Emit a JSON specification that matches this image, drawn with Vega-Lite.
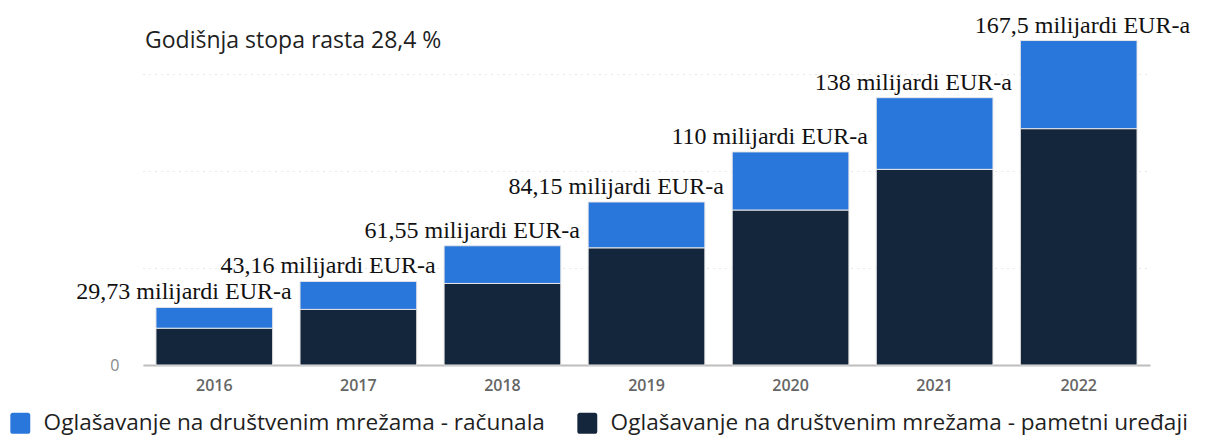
{
  "$schema": "https://vega.github.io/schema/vega-lite/v6.json",
  "width": 1007,
  "height": 339,
  "autosize": {"type": "none"},
  "padding": {"left": 143, "top": 26, "right": 59, "bottom": 72},
  "background": "#ffffff",
  "title": {
    "text": "Godišnja stopa rasta  28,4 %",
    "anchor": "start",
    "frame": "group",
    "orient": "top",
    "offset": 0,
    "dy": 57,
    "dx": 2,
    "baseline": "alphabetic",
    "font": "Open Sans",
    "fontSize": 23,
    "fontWeight": "normal",
    "color": "#1f1f1f"
  },
  "config": {
    "view": {"stroke": null},
    "axis": {"labelFont": "Open Sans"}
  },
  "datasets": {
    "bars": [
      {"year": "2016", "series": "Oglašavanje na društvenim mrežama - pametni uređaji", "value": 19.0},
      {"year": "2016", "series": "Oglašavanje na društvenim mrežama - računala", "value": 10.73},
      {"year": "2017", "series": "Oglašavanje na društvenim mrežama - pametni uređaji", "value": 28.7},
      {"year": "2017", "series": "Oglašavanje na društvenim mrežama - računala", "value": 14.46},
      {"year": "2018", "series": "Oglašavanje na društvenim mrežama - pametni uređaji", "value": 42.1},
      {"year": "2018", "series": "Oglašavanje na društvenim mrežama - računala", "value": 19.45},
      {"year": "2019", "series": "Oglašavanje na društvenim mrežama - pametni uređaji", "value": 60.5},
      {"year": "2019", "series": "Oglašavanje na društvenim mrežama - računala", "value": 23.65},
      {"year": "2020", "series": "Oglašavanje na društvenim mrežama - pametni uređaji", "value": 80.0},
      {"year": "2020", "series": "Oglašavanje na društvenim mrežama - računala", "value": 30.0},
      {"year": "2021", "series": "Oglašavanje na društvenim mrežama - pametni uređaji", "value": 101.0},
      {"year": "2021", "series": "Oglašavanje na društvenim mrežama - računala", "value": 37.0},
      {"year": "2022", "series": "Oglašavanje na društvenim mrežama - pametni uređaji", "value": 122.0},
      {"year": "2022", "series": "Oglašavanje na društvenim mrežama - računala", "value": 45.5}
    ],
    "totals": [
      {"year": "2016", "total": 29.73, "label": "29,73 milijardi EUR-a"},
      {"year": "2017", "total": 43.16, "label": "43,16 milijardi EUR-a"},
      {"year": "2018", "total": 61.55, "label": "61,55 milijardi EUR-a"},
      {"year": "2019", "total": 84.15, "label": "84,15 milijardi EUR-a"},
      {"year": "2020", "total": 110, "label": "110 milijardi EUR-a"},
      {"year": "2021", "total": 138, "label": "138 milijardi EUR-a"},
      {"year": "2022", "total": 167.5, "label": "167,5 milijardi EUR-a"}
    ]
  },
  "encoding": {
    "x": {
      "field": "year",
      "type": "ordinal",
      "scale": {"paddingInner": 0.19, "paddingOuter": 0.09},
      "axis": {
        "title": null,
        "labelAngle": 0,
        "ticks": false,
        "domainColor": "#bdbdbd",
        "domainWidth": 2,
        "labelColor": "#666666",
        "labelFontSize": 16,
        "labelFontWeight": 600,
        "labelPadding": 12
      }
    },
    "y": {
      "type": "quantitative",
      "scale": {"domain": [0, 175], "nice": false},
      "axis": {
        "title": null,
        "values": [0, 50, 100, 150],
        "labelExpr": "datum.value == 0 ? '0' : ''",
        "ticks": false,
        "domain": false,
        "gridColor": "#d0d0d0",
        "gridDash": [1, 5],
        "gridWidth": 1,
        "labelColor": "#888888",
        "labelFontSize": 16,
        "labelPadding": 24
      }
    }
  },
  "layer": [
    {
      "data": {"name": "bars"},
      "mark": {"type": "bar", "stroke": "#e6e6e6", "strokeWidth": 1},
      "encoding": {
        "y": {"field": "value", "type": "quantitative", "stack": "zero"},
        "order": {"field": "series", "sort": "ascending"},
        "color": {
          "field": "series",
          "type": "nominal",
          "scale": {
            "domain": [
              "Oglašavanje na društvenim mrežama - računala",
              "Oglašavanje na društvenim mrežama - pametni uređaji"
            ],
            "range": ["#2a77dc", "#13263b"]
          },
          "legend": {
            "title": null,
            "orient": "none",
            "legendX": -134,
            "legendY": 386,
            "direction": "horizontal",
            "columns": 2,
            "columnPadding": 31,
            "symbolType": "M -0.7,-1 L 0.7,-1 Q 0.95,-1 0.95,-0.75 L 0.95,0.75 Q 0.95,1 0.7,1 L -0.7,1 Q -0.95,1 -0.95,0.75 L -0.95,-0.75 Q -0.95,-1 -0.7,-1 Z",
            "symbolSize": 440,
            "symbolStrokeWidth": 0,
            "symbolOpacity": 1,
            "labelFont": "Open Sans",
            "labelFontSize": 22.6,
            "labelColor": "#1f1f1f",
            "labelLimit": 700,
            "labelOffset": 12
          }
        }
      }
    },
    {
      "data": {"name": "totals"},
      "transform": [{"filter": "datum.year != '2022'"}],
      "mark": {
        "type": "text",
        "align": "right",
        "baseline": "alphabetic",
        "dx": 19,
        "dy": -8,
        "font": "Liberation Serif",
        "fontSize": 24,
        "color": "#111111"
      },
      "encoding": {
        "x": {"field": "year", "type": "ordinal", "bandPosition": 1},
        "y": {"field": "total", "type": "quantitative"},
        "text": {"field": "label"}
      }
    },
    {
      "data": {"name": "totals"},
      "transform": [{"filter": "datum.year == '2022'"}],
      "mark": {
        "type": "text",
        "align": "right",
        "baseline": "alphabetic",
        "dx": 53,
        "dy": -8,
        "font": "Liberation Serif",
        "fontSize": 24,
        "color": "#111111"
      },
      "encoding": {
        "x": {"field": "year", "type": "ordinal", "bandPosition": 1},
        "y": {"field": "total", "type": "quantitative"},
        "text": {"field": "label"}
      }
    }
  ]
}
